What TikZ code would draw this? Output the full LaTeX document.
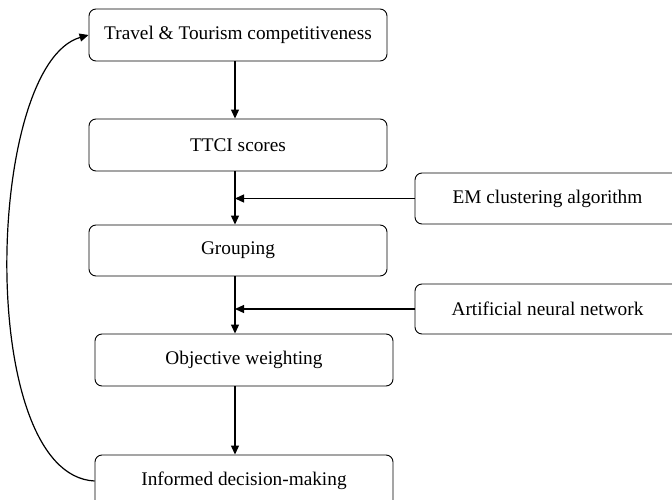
\documentclass[tikz,border=0pt]{standalone}
\usepackage{fontspec}
\setmainfont{Liberation Serif}
\usetikzlibrary{arrows.meta}
\begin{document}
\begin{tikzpicture}[x=1pt,y=-1pt,
  box/.style={draw=black, line width=0.9pt, rounded corners=7pt, rectangle, inner sep=0pt,
    minimum width=298pt, minimum height=52pt, font=\fontsize{19.3}{23}\selectfont},
  sidebox/.style={box, minimum width=265pt, minimum height=51pt},
  arr/.style={line width=1.2pt, -{Triangle[length=9pt,width=8pt]}}]
\useasboundingbox (0,0) rectangle (672,500);
\clip (0,0) rectangle (672,500);
\node[box] (b1) at (238,35) {Travel \& Tourism competitiveness};
\node[box] (b2) at (238,145) {TTCI scores};
\node[box, minimum height=51pt] (b3) at (238,250.5) {Grouping};
\node[box] (b4) at (244,360) {Objective weighting};
\node[box] (b5) at (244,481) {Informed decision-making};
\node[sidebox] (em) at (547.5,198.5) {EM clustering algorithm};
\node[sidebox, minimum height=50pt] (ann) at (547.5,309) {Artificial neural network};
\coordinate (X) at (235,0);
\draw[arr] (b1.south -| X) -- (b2.north -| X);
\draw[arr] (b2.south -| X) -- (b3.north -| X);
\draw[arr] (b3.south -| X) -- (b4.north -| X);
\draw[arr] (b4.south -| X) -- (b5.north -| X);
\draw[arr] (em.west) -- (em.west -| X);
\draw[arr] (ann.west) -- (ann.west -| X);
\draw[arr] (b5.west) .. controls (-25,475) and (-15,65) .. (b1.west);
\end{tikzpicture}
\end{document}
